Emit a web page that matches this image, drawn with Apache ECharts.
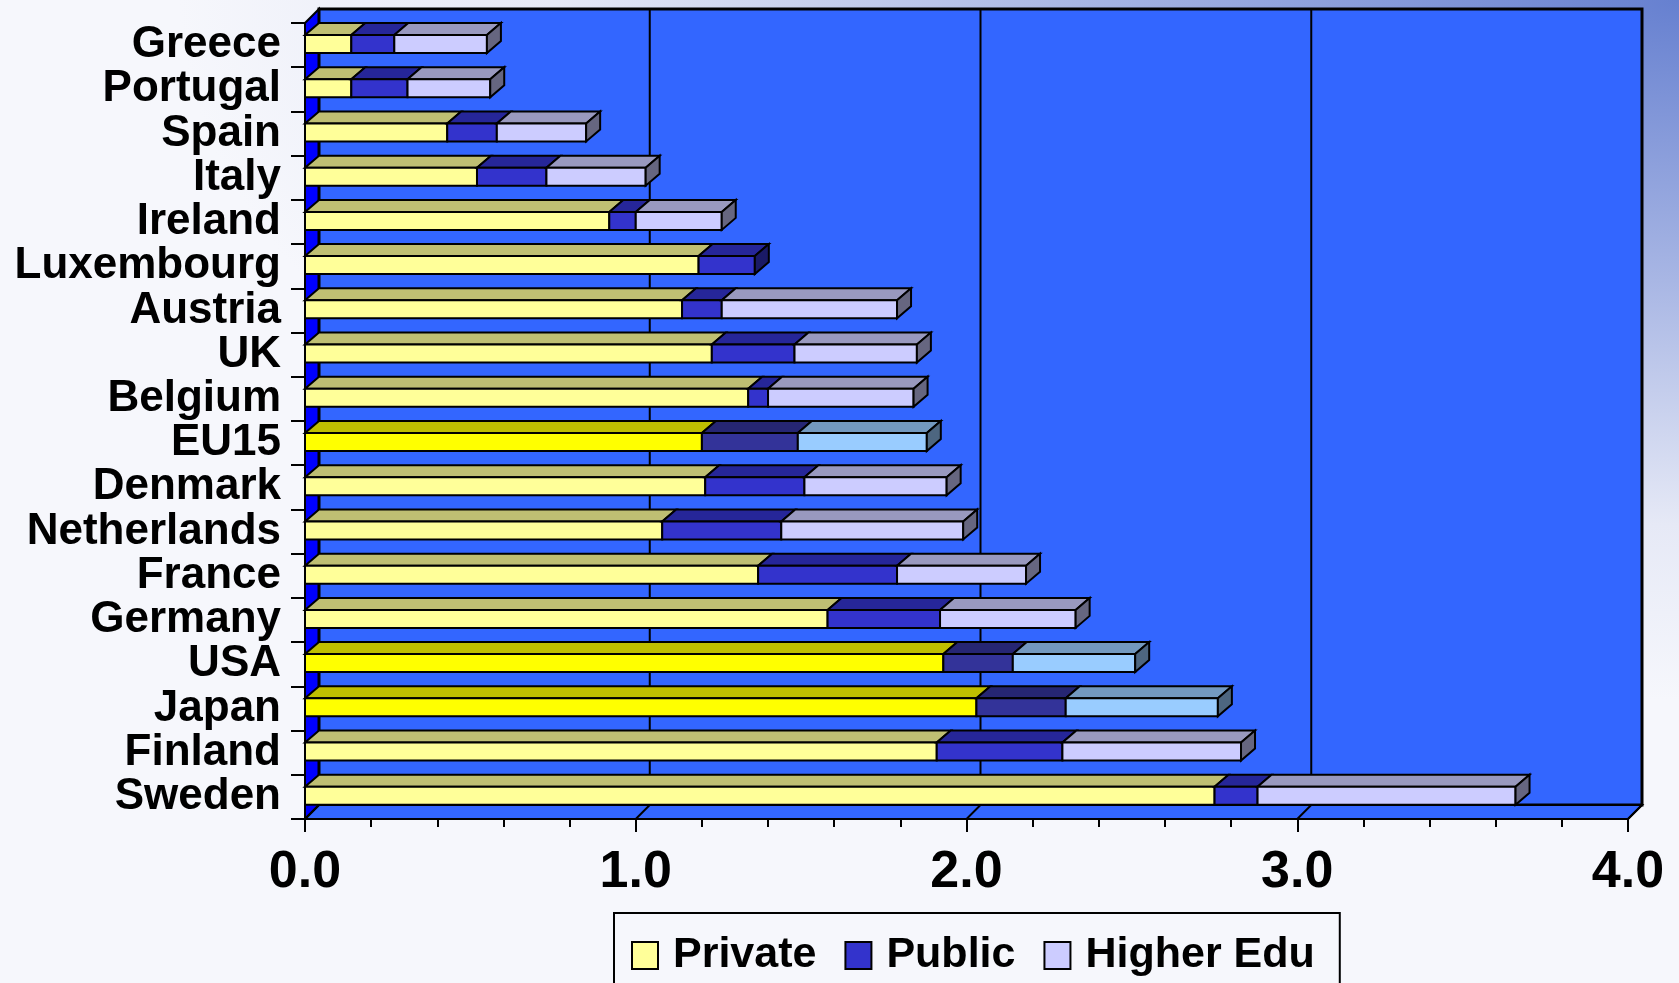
<!DOCTYPE html>
<html>
<head>
<meta charset="utf-8">
<script src="https://cdn.jsdelivr.net/npm/echarts@6/dist/echarts.min.js"></script>
<style>
html, body { margin: 0; padding: 0; }
body { background: radial-gradient(ellipse 1500px 700px at 100% 0%, #6680d0 0%, #a8b6e4 40%, #e6e9f6 75%, #f6f7fc 100%); }
#chart { width: 1679px; height: 983px; }
</style>
</head>
<body>
<div id="chart"></div>
<script>
// R&D spend as % of GDP, split by sector
let countries = ['Greece', 'Portugal', 'Spain', 'Italy', 'Ireland', 'Luxembourg', 'Austria', 'UK', 'Belgium',
    'EU15', 'Denmark', 'Netherlands', 'France', 'Germany', 'USA', 'Japan', 'Finland', 'Sweden'];
let privateRD = [0.14, 0.14, 0.43, 0.52, 0.92, 1.19, 1.14, 1.23, 1.34, 1.20, 1.21, 1.08, 1.37, 1.58, 1.93, 2.03, 1.91, 2.75];
let publicRD = [0.13, 0.17, 0.15, 0.21, 0.08, 0.17, 0.12, 0.25, 0.06, 0.29, 0.30, 0.36, 0.42, 0.34, 0.21, 0.27, 0.38, 0.13];
let higherEdu = [0.28, 0.25, 0.27, 0.30, 0.26, 0, 0.53, 0.37, 0.44, 0.39, 0.43, 0.55, 0.39, 0.41, 0.37, 0.46, 0.54, 0.78];
let highlighted = ['EU15', 'USA', 'Japan'];
let gridValues = [0, 1, 2, 3, 4];

let names = ['Private', 'Public', 'Higher Edu'];
let stacks = [privateRD, publicRD, higherEdu];

const normalColors = {
    'Private': { front: '#ffff99', top: '#bfbf73', side: '#80804d' },
    'Public': { front: '#3333cc', top: '#262699', side: '#1a1a66' },
    'Higher Edu': { front: '#ccccff', top: '#9999bf', side: '#666680' }
};
const strongColors = {
    'Private': { front: '#ffff00', top: '#bfbf00', side: '#808000' },
    'Public': { front: '#333399', top: '#262673', side: '#1a1a4d' },
    'Higher Edu': { front: '#99ccff', top: '#7399bf', side: '#4d6680' }
};

const WD = 14;          // wall depth
const DX = 14, DY = 12;  // bar depth
const font = '"Liberation Sans", Arial, sans-serif';

// [category, start, end, isLastSegment]
let seriesData = names.map(() => []);
countries.forEach((c, i) => {
    let acc = 0, last = -1;
    stacks.forEach((arr, k) => { if (arr[i] > 0) last = k; });
    stacks.forEach((arr, k) => {
        seriesData[k].push([i, acc, acc + arr[i], k === last ? 1 : 0]);
        acc += arr[i];
    });
});

function wallItem(params, api) {
    let cs = params.coordSys;
    let L = cs.x, R = cs.x + cs.width, T = cs.y, B = cs.y + cs.height;
    let kids = [
        { type: 'polygon', shape: { points: [[L, T], [L + WD, T - WD], [L + WD, B - WD], [L, B]] },
          style: { fill: '#0000ff', stroke: '#000', lineWidth: 2 } },
        { type: 'rect', shape: { x: L + WD, y: T - WD, width: cs.width, height: cs.height },
          style: { fill: '#3366ff', stroke: '#000', lineWidth: 3 } },
        { type: 'polygon', shape: { points: [[L, B], [R, B], [R + WD, B - WD], [L + WD, B - WD]] },
          style: { fill: '#3366ff', stroke: '#000', lineWidth: 2 } }
    ];
    gridValues.forEach(v => {
        let x = api.coord([v, 0])[0];
        if (v > 0 && v < 4) {
            kids.push({ type: 'line', shape: { x1: x + WD, y1: T - WD, x2: x + WD, y2: B - WD },
                style: { stroke: '#000', lineWidth: 2 } });
        }
        kids.push({ type: 'line', shape: { x1: x, y1: B, x2: x + WD, y2: B - WD },
            style: { stroke: '#000', lineWidth: 2 } });
    });
    return { type: 'group', children: kids };
}

function barItem(name) {
    return function (params, api) {
        let i = api.value(0), s = api.value(1), e = api.value(2);
        if (e - s <= 0) return;
        let p0 = api.coord([s, i]), p1 = api.coord([e, i]);
        let band = api.size([0, 1])[1];
        let top = p0[1] - band / 2 + 12, bot = top + 18;
        let x0 = p0[0], x1 = p1[0];
        let col = (highlighted.indexOf(countries[i]) >= 0 ? strongColors : normalColors)[name];
        let kids = [
            { type: 'polygon', shape: { points: [[x0, top], [x1, top], [x1 + DX, top - DY], [x0 + DX, top - DY]] },
              style: { fill: col.top, stroke: '#000', lineWidth: 2 } },
            { type: 'rect', shape: { x: x0, y: top, width: x1 - x0, height: bot - top },
              style: { fill: col.front, stroke: '#000', lineWidth: 2 } }
        ];
        if (api.value(3)) {
            kids.push({ type: 'polygon', shape: { points: [[x1, top], [x1 + DX, top - DY], [x1 + DX, bot - DY], [x1, bot]] },
                style: { fill: col.side, stroke: '#000', lineWidth: 2 } });
        }
        return { type: 'group', children: kids };
    };
}

let chart = echarts.init(document.getElementById('chart'), null, { renderer: 'canvas' });

let series = [{
    name: 'walls', type: 'custom', silent: true, z: 1,
    data: [[0, 0]], encode: { x: 0, y: 1 },
    renderItem: wallItem
}];
names.forEach((n, k) => {
    series.push({
        name: n, type: 'custom', z: 3, silent: true,
        itemStyle: { color: normalColors[n].front },
        data: seriesData[k],
        encode: { x: [1, 2], y: 0 },
        renderItem: barItem(n)
    });
});

chart.setOption({
    backgroundColor: 'transparent',
    animation: false,
    grid: { left: 305, top: 23, right: 51, bottom: 164 },
    xAxis: {
        type: 'value', min: 0, max: 4, interval: 1, z: 5,
        axisLine: { show: true, lineStyle: { color: '#000', width: 2 } },
        axisTick: { show: true, length: 13, lineStyle: { color: '#000', width: 2 } },
        minorTick: { show: true, splitNumber: 5, length: 8, lineStyle: { color: '#000', width: 2 } },
        splitLine: { show: false },
        axisLabel: {
            margin: 28, color: '#000', fontFamily: font, fontWeight: 'bold', fontSize: 52,
            formatter: v => v.toFixed(1)
        }
    },
    yAxis: {
        type: 'category', data: countries, inverse: true, z: 5,
        axisLine: { show: true, lineStyle: { color: '#000', width: 2 } },
        axisTick: { show: true, length: 14, lineStyle: { color: '#000', width: 2 } },
        splitLine: { show: false },
        axisLabel: {
            interval: 0, margin: 24, color: '#000', fontFamily: font, fontWeight: 'bold', fontSize: 44
        }
    },
    legend: {
        left: 614, top: 913, orient: 'horizontal', selectedMode: false,
        icon: 'rect', itemWidth: 26, itemHeight: 27, itemGap: 28,
        padding: [21, 25, 40, 17],
        borderColor: '#000', borderWidth: 2,
        textStyle: { color: '#000', fontFamily: font, fontWeight: 'bold', fontSize: 43, lineHeight: 27, padding: [0, 0, 0, 10] },
        data: names.map(n => ({
            name: n,
            itemStyle: { color: normalColors[n].front, borderColor: '#000', borderWidth: 2 }
        }))
    },
    series: series
});
</script>
</body>
</html>
